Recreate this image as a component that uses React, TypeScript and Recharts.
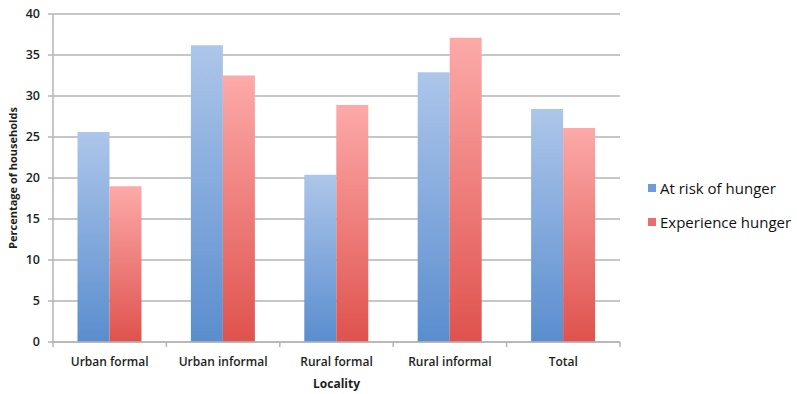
import React from "react";
import { BarChart, Bar, XAxis, YAxis, CartesianGrid, Legend } from "recharts";

const localities = ["Urban formal", "Urban informal", "Rural formal", "Rural informal", "Total"];
const atRiskOfHunger = [25.6, 36.2, 20.4, 32.9, 28.4];
const experienceHunger = [19.0, 32.5, 28.9, 37.1, 26.1];
const yTicks = [0, 5, 10, 15, 20, 25, 30, 35, 40];

const seriesNames = { risk: "At risk of hunger", exp: "Experience hunger" };

const data = localities.map((name, i) => ({
  name,
  risk: atRiskOfHunger[i],
  exp: experienceHunger[i],
}));

const FONT = "'Open Sans', 'Liberation Sans', sans-serif";
const GRID = "#b5b5b5";
const TICK_GAP = 15;

// Category label plus Excel-style tick marks on the band boundaries
const LocalityTick = (props: any) => {
  const { x, y, payload, index, visibleTicksCount } = props;
  const half = payload && payload.offset ? payload.offset : 0;
  const axisY = y - TICK_GAP;
  const last = index === visibleTicksCount - 1;
  return (
    <g>
      <line x1={x - half} x2={x - half} y1={axisY} y2={axisY + 5} stroke={GRID} strokeWidth={1.5} />
      {last && <line x1={x + half} x2={x + half} y1={axisY} y2={axisY + 5} stroke={GRID} strokeWidth={1.5} />}
      <text x={x} y={y} dy="0.71em" textAnchor="middle" fontFamily={FONT} fontSize={12} fontWeight={600} fill="#1e1e1e">
        {payload.value}
      </text>
    </g>
  );
};

const LegendContent = () => (
  <div style={{ fontFamily: FONT, fontSize: 15, color: "#111" }}>
    {[
      { label: seriesNames.risk, color: "#6f9bd6" },
      { label: seriesNames.exp, color: "#e8706c" },
    ].map((item, i) => (
      <div key={item.label} style={{ display: "flex", alignItems: "center", height: 20, marginBottom: i === 0 ? 14 : 0 }}>
        <span style={{ width: 8, height: 8, background: item.color, marginRight: 4, display: "inline-block" }} />
        <span>{item.label}</span>
      </div>
    ))}
  </div>
);

export default function App() {
  return (
    <div style={{ position: "absolute", left: 0, top: 0, background: "#fff" }}>
      <BarChart
        width={797}
        height={394}
        data={data}
        margin={{ top: 14, right: 177, bottom: 0, left: 8 }}
        barCategoryGap="21.6%"
        barGap={0}
      >
        <defs>
          <linearGradient id="gradRisk" x1="0" y1="0" x2="0" y2="1">
            <stop offset="0%" stopColor="#adc6ea" />
            <stop offset="100%" stopColor="#5a8dce" />
          </linearGradient>
          <linearGradient id="gradExp" x1="0" y1="0" x2="0" y2="1">
            <stop offset="0%" stopColor="#fcaaa9" />
            <stop offset="100%" stopColor="#df524d" />
          </linearGradient>
        </defs>
        <CartesianGrid horizontal vertical={false} stroke={GRID} strokeWidth={1.5} />
        <XAxis
          dataKey="name"
          height={52}
          axisLine={{ stroke: GRID, strokeWidth: 1.5 }}
          tickLine={false}
          tickSize={0}
          tickMargin={TICK_GAP}
          interval={0}
          tick={<LocalityTick />}
          label={{
            content: (p: any) => (
              <text
                x={p.viewBox.x + p.viewBox.width / 2}
                y={p.viewBox.y + 41}
                textAnchor="middle"
                dominantBaseline="central"
                fontFamily={FONT}
                fontSize={12}
                fontWeight={700}
                fill="#1e1e1e"
              >
                Locality
              </text>
            ),
          }}
        />
        <YAxis
          width={45}
          domain={[0, 40]}
          ticks={yTicks}
          interval={0}
          axisLine={{ stroke: GRID, strokeWidth: 1.5 }}
          tickLine={{ stroke: GRID, strokeWidth: 1.5 }}
          tickSize={5}
          tickMargin={8}
          tick={{ fontFamily: FONT, fontSize: 12.5, fontWeight: 600, fill: "#1e1e1e" }}
          label={{
            content: (p: any) => {
              const cx = p.viewBox.x + 4;
              const cy = p.viewBox.y + p.viewBox.height / 2;
              return (
                <text
                  x={cx}
                  y={cy}
                  transform={`rotate(-90, ${cx}, ${cy})`}
                  textAnchor="middle"
                  dominantBaseline="central"
                  fontFamily={FONT}
                  fontSize={11}
                  fontWeight={700}
                  fill="#1e1e1e"
                >
                  Percentage of households
                </text>
              );
            },
          }}
        />
        <Legend
          layout="vertical"
          align="center"
          verticalAlign="middle"
          content={<LegendContent />}
          wrapperStyle={{ left: 648, top: 178, width: 149 }}
        />
        <Bar dataKey="risk" name={seriesNames.risk} fill="url(#gradRisk)" isAnimationActive={false} />
        <Bar dataKey="exp" name={seriesNames.exp} fill="url(#gradExp)" isAnimationActive={false} />
      </BarChart>
    </div>
  );
}
